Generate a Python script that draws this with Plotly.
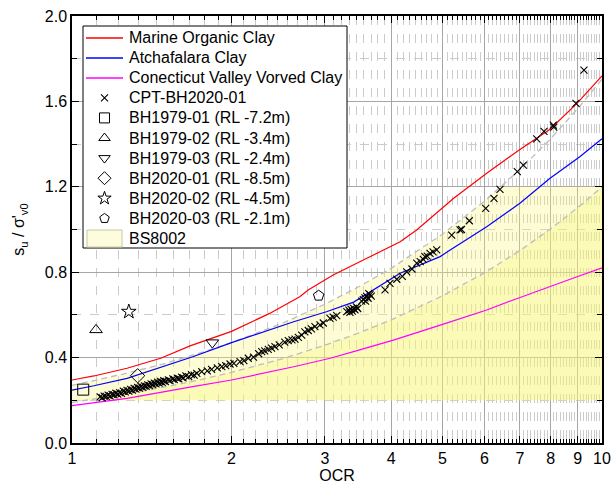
import plotly.graph_objects as go

# ---------------- data ----------------
red_ocr = [1.0, 1.1, 1.27, 1.47, 1.67, 1.8, 2.0, 2.36, 2.69, 2.79, 3.11, 3.6, 4.16, 4.47, 5.25, 6.06, 7.0, 7.98, 8.97, 10.0]
red_su = [0.295, 0.314, 0.350, 0.397, 0.455, 0.482, 0.523, 0.607, 0.685, 0.717, 0.787, 0.865, 0.943, 0.998, 1.146, 1.263, 1.375, 1.470, 1.591, 1.720]

blue_ocr = [1.0, 1.1, 1.27, 1.47, 1.69, 2.0, 2.26, 2.62, 3.02, 3.4, 4.16, 4.95, 5.17, 6.06, 7.0, 7.98, 9.08, 10.0]
blue_su = [0.248, 0.268, 0.303, 0.355, 0.404, 0.470, 0.514, 0.568, 0.615, 0.660, 0.795, 0.873, 0.904, 1.013, 1.123, 1.240, 1.341, 1.425]

mag_ocr = [1.0, 1.27, 1.69, 2.0, 2.62, 3.07, 3.49, 4.04, 5.02, 6.06, 6.8, 8.0, 9.0, 10.0]
mag_su = [0.175, 0.209, 0.264, 0.295, 0.357, 0.397, 0.436, 0.482, 0.557, 0.623, 0.670, 0.735, 0.780, 0.820]

bs_ocr = [1.0, 1.25, 1.5, 1.75, 2.0, 2.5, 3.0, 3.5, 4.0, 5.0, 6.0, 7.0, 8.0, 9.0, 10.0]
bs_upper = [0.270, 0.323, 0.373, 0.423, 0.470, 0.562, 0.650, 0.736, 0.818, 0.978, 1.132, 1.281, 1.425, 1.566, 1.704]
bs_lower = [0.190, 0.227, 0.263, 0.297, 0.331, 0.395, 0.458, 0.518, 0.576, 0.689, 0.797, 0.901, 1.003, 1.102, 1.199]
bs_floor = 0.2
bs_cap = 1.2
bs_cap_ocr = 6.45   # where the upper BS8002 line reaches the cap

cpt_ocr = [1.13, 1.14, 1.15, 1.16, 1.17, 1.18, 1.19, 1.20, 1.21, 1.22, 1.23, 1.24, 1.25, 1.26, 1.27, 1.28,
           1.29, 1.30, 1.31, 1.32, 1.33, 1.34, 1.35, 1.36, 1.37, 1.38, 1.39, 1.40, 1.41, 1.42, 1.43, 1.44,
           1.45, 1.46, 1.47, 1.48, 1.49, 1.50, 1.52, 1.53, 1.55, 1.56, 1.58, 1.59, 1.61, 1.62, 1.64, 1.66,
           1.68, 1.70, 1.72, 1.757, 1.80, 1.834, 1.88, 1.917, 1.95, 1.987, 2.02, 2.075, 2.11, 2.151, 2.20,
           2.25, 2.28, 2.31, 2.346, 2.38, 2.415, 2.46, 2.52, 2.559, 2.60, 2.635, 2.673, 2.713, 2.75, 2.791,
           2.83, 2.873, 2.937, 2.98, 3.068, 3.11, 3.159, 3.30, 3.33, 3.345, 3.36, 3.38, 3.40, 3.42, 3.44,
           3.46, 3.52, 3.545, 3.57, 3.58, 3.597, 3.62, 3.63, 3.65, 3.67, 3.896, 3.981, 4.10, 4.20, 4.281,
           4.38, 4.471, 4.54, 4.601, 4.634, 4.68, 4.737, 4.80, 4.877, 5.205, 5.396, 5.43, 5.619, 6.034,
           6.255, 6.42, 6.922, 7.105, 7.53, 7.773, 8.093, 8.11, 8.93, 9.247]
cpt_su = [0.216, 0.212, 0.220, 0.218, 0.224, 0.221, 0.228, 0.226, 0.233, 0.229, 0.236, 0.232, 0.243, 0.239, 0.247, 0.243,
          0.251, 0.248, 0.256, 0.252, 0.260, 0.257, 0.265, 0.261, 0.268, 0.265, 0.272, 0.269, 0.277, 0.273, 0.280, 0.277,
          0.285, 0.280, 0.288, 0.284, 0.292, 0.288, 0.296, 0.292, 0.300, 0.297, 0.304, 0.301, 0.309, 0.305, 0.314, 0.311,
          0.320, 0.318, 0.326, 0.334, 0.338, 0.345, 0.352, 0.358, 0.362, 0.370, 0.373, 0.381, 0.386, 0.397, 0.402,
          0.418, 0.428, 0.432, 0.439, 0.444, 0.451, 0.460, 0.472, 0.479, 0.483, 0.487, 0.495, 0.505, 0.520, 0.527,
          0.535, 0.545, 0.553, 0.562, 0.584, 0.590, 0.597, 0.615, 0.622, 0.612, 0.627, 0.618, 0.631, 0.624, 0.638,
          0.630, 0.665, 0.672, 0.680, 0.665, 0.687, 0.678, 0.700, 0.695, 0.688, 0.717, 0.748, 0.767, 0.780, 0.802,
          0.815, 0.842, 0.850, 0.860, 0.873, 0.875, 0.888, 0.895, 0.905, 0.974, 0.998, 1.000, 1.041, 1.099,
          1.146, 1.188, 1.271, 1.302, 1.424, 1.460, 1.489, 1.480, 1.591, 1.747]

bh_names = ["BH1979-01 (RL -7.2m)", "BH1979-02 (RL -3.4m)", "BH1979-03 (RL -2.4m)",
            "BH2020-01 (RL -8.5m)", "BH2020-02 (RL -4.5m)", "BH2020-03 (RL -2.1m)"]
bh_ocr = [1.05, 1.11, 1.84, 1.33, 1.28, 2.92]
bh_su = [0.25, 0.53, 0.47, 0.315, 0.615, 0.69]
bh_symbols = ["square-open", "triangle-up-open", "triangle-down-open", "diamond-open", "star-open", "pentagon-open"]

line_names = ["Marine Organic Clay", "Atchafalara Clay", "Conecticut Valley Vorved Clay"]
line_colors = ["#ff0000", "#0000ff", "#ff00ff"]
cpt_name = "CPT-BH2020-01"
bs_name = "BS8002"

x_ticks = [1, 2, 3, 4, 5, 6, 7, 8, 9, 10]
y_ticks = [0.0, 0.4, 0.8, 1.2, 1.6, 2.0]

# ---------------- figure ----------------
FONT = "Arial, Liberation Sans, sans-serif"
PALE = "rgba(250,245,120,0.32)"
fig = go.Figure()

# BS8002 shaded zone: floor -> upper (capped), and floor -> lower (capped)
up_x, up_y = [], []
for o, u in zip(bs_ocr, bs_upper):
    if u <= bs_cap:
        up_x.append(o); up_y.append(u)
    else:
        if up_y and up_y[-1] < bs_cap:
            up_x.append(bs_cap_ocr); up_y.append(bs_cap)
        up_x.append(o); up_y.append(bs_cap)
lo_y = [min(max(v, bs_floor), bs_cap) for v in bs_lower]

for xs, ys in ((up_x, up_y), (bs_ocr, lo_y)):
    fig.add_trace(go.Scatter(x=[bs_ocr[0], bs_ocr[-1]], y=[bs_floor, bs_floor], mode="lines",
                             line=dict(width=0), showlegend=False, hoverinfo="skip"))
    fig.add_trace(go.Scatter(x=xs, y=ys, mode="lines", line=dict(width=0), fill="tonexty",
                             fillcolor=PALE, showlegend=False, hoverinfo="skip"))

# BS8002 dashed bounds
for arr in (bs_upper, bs_lower):
    fig.add_trace(go.Scatter(x=bs_ocr, y=arr, mode="lines", showlegend=False,
                             line=dict(color="#bdbdbd", width=1.3, dash="6px,4px")))

# correlation lines
for xs, ys, n, c in zip((red_ocr, blue_ocr, mag_ocr), (red_su, blue_su, mag_su), line_names, line_colors):
    fig.add_trace(go.Scatter(x=xs, y=ys, mode="lines", name=n, showlegend=False,
                             line=dict(color=c, width=1.2)))

CROSS = dict(symbol="x-thin", size=7, color="black", line=dict(color="black", width=1.1))
fig.add_trace(go.Scatter(x=cpt_ocr, y=cpt_su, mode="markers", name=cpt_name, showlegend=False,
                         marker=CROSS))

for n, o, s, sym in zip(bh_names, bh_ocr, bh_su, bh_symbols):
    fig.add_trace(go.Scatter(x=[o], y=[s], mode="markers", name=n, showlegend=False,
                             marker=dict(symbol=sym, size=11, color="black",
                                         line=dict(color="black", width=1))))

# ---------------- legend box (drawn on a pixel-scaled overlay axis) ----------------
LX0, LX1, LY0, LY1 = 83, 347, 26, 248     # legend frame (px)
ROW0, ROWSTEP = 37.5, 20.1                  # first row centre and row step (px)
SX0, SX1, TX = 86, 123, 127                 # sample start/end, text start (px)
lx = dict(xaxis="x2", yaxis="y2", showlegend=False, hoverinfo="skip")

fig.add_trace(go.Scatter(x=[LX0, LX1, LX1, LX0, LX0], y=[LY0, LY0, LY1, LY1, LY0], mode="lines",
                         fill="toself", fillcolor="white", line=dict(color="black", width=1), **lx))
labels = line_names + [cpt_name] + bh_names + [bs_name]
for i, lab in enumerate(labels):
    yc = ROW0 + ROWSTEP * i
    if i < 3:
        yl = round(yc)
        fig.add_trace(go.Scatter(x=[SX0, SX1], y=[yl, yl], mode="lines",
                                 line=dict(color=line_colors[i], width=1.4), **lx))
    elif i == 3:
        fig.add_trace(go.Scatter(x=[(SX0 + SX1) / 2], y=[yc], mode="markers", marker=CROSS, **lx))
    elif i < 10:
        fig.add_trace(go.Scatter(x=[(SX0 + SX1) / 2], y=[yc], mode="markers",
                                 marker=dict(symbol=bh_symbols[i - 4], size=10, color="black",
                                             line=dict(color="black", width=1)), **lx))
    else:
        fig.add_trace(go.Scatter(x=[SX0 + 1, SX1 - 1, SX1 - 1, SX0 + 1, SX0 + 1],
                                 y=[yc - 8.5, yc - 8.5, yc + 8.5, yc + 8.5, yc - 8.5],
                                 mode="lines", fill="toself", fillcolor="#fdfcdc",
                                 line=dict(color="#c9c6a6", width=1), **lx))
    fig.add_annotation(x=TX, y=yc, xref="x2", yref="y2", text=lab, showarrow=False,
                       xanchor="left", yanchor="middle", font=dict(family=FONT, size=16, color="black"))

fig.update_layout(
    width=614, height=491,
    margin=dict(l=72, r=12, t=16, b=48, autoexpand=False),
    paper_bgcolor="white", plot_bgcolor="white",
    font=dict(family=FONT, size=16, color="black"),
    showlegend=False,
    xaxis2=dict(overlaying="x", range=[72, 602], visible=False, fixedrange=True),
    yaxis2=dict(overlaying="y", range=[443, 16], visible=False, fixedrange=True),
)

fig.layout.xaxis.update(
    type="log", range=[0, 1], automargin=False,
    tickmode="array", tickvals=x_ticks, ticktext=[str(t) for t in x_ticks],
    ticks="inside", ticklen=7, tickcolor="black", tickwidth=1,
    showline=True, linecolor="black", linewidth=1.5, mirror="ticks",
    showgrid=True, gridcolor="#a6a6a6", gridwidth=1, zeroline=False,
    tickfont=dict(size=16),
    title=dict(text="OCR", font=dict(size=16), standoff=4),
    minor=dict(tickmode="array",
               tickvals=[a + k / 9 for a in range(1, 10) for k in range(1, 9)],
               ticks="inside", ticklen=4, tickcolor="black",
               showgrid=True, gridcolor="#cbcbcb", griddash="dash", gridwidth=1),
)

fig.layout.yaxis.update(
    range=[0, 2.0], automargin=False,
    tickmode="array", tickvals=y_ticks, ticktext=[f"{v:.1f}" for v in y_ticks],
    ticks="inside", ticklen=7, tickcolor="black",
    showline=True, linecolor="black", linewidth=1.5, mirror="ticks",
    showgrid=True, gridcolor="#a6a6a6", gridwidth=1, zeroline=False,
    tickfont=dict(size=16),
    title=dict(text="s<sub>u</sub> / σ'<sub>v0</sub>", font=dict(size=16), standoff=16),
    minor=dict(dtick=0.2, ticks="inside", ticklen=5, tickcolor="black",
               showgrid=True, gridcolor="#cbcbcb", griddash="dash", gridwidth=1),
)

fig.write_html("out.html", config={"displayModeBar": False},
               post_script="document.body.style.margin='0';")
